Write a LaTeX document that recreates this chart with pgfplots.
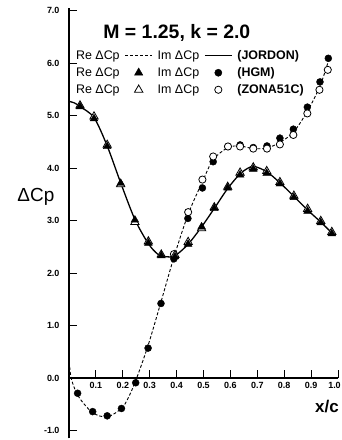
\documentclass[border=0pt]{standalone}
\usepackage{pgfplots}
\pgfplotsset{compat=1.18}
\usepackage{fontspec}
\setmainfont{Liberation Sans}
\begin{document}
\begin{tikzpicture}
\begin{axis}[
  scale only axis, width=269bp, height=430.5bp,
  xmin=0, xmax=1, ymin=-1.15, ymax=7.05,
  axis lines=middle,
  axis line style={-, line width=1.1bp, black},
  hide obscured x ticks=false, hide obscured y ticks=false,
  xtick={0.1,0.2,0.3,0.4,0.5,0.6,0.7,0.8,0.9},
  extra x ticks={1.0},
  extra x tick style={xticklabel style={xshift=-3.5bp}},
  ytick={-1,0,1,2,3,4,5,6,7},
  tick align=inside,
  major tick length=8bp,
  tick style={line width=0.9bp, black},
  /pgf/number format/assume math mode=true,
  xticklabel style={font=\fontsize{9}{10}\selectfont\bfseries, /pgf/number format/fixed, /pgf/number format/fixed zerofill, /pgf/number format/precision=1, yshift=-1bp},
  yticklabel style={font=\fontsize{9}{10}\selectfont\bfseries, /pgf/number format/fixed, /pgf/number format/fixed zerofill, /pgf/number format/precision=1, xshift=-6bp},
  clip=false,
  legend columns=3,
  legend plot pos=right,
  legend cell align=left,
  legend style={draw=none, fill=none, at={(axis cs:0.007,6.30)}, anchor=north west,
    font=\fontsize{12.5}{14}\selectfont, column sep=3bp, row sep=4.5bp,
    nodes={inner xsep=2bp, inner ysep=1bp}},
]
\coordinate (O) at (rel axis cs:0,0);
% legend
\addlegendimage{legend image code/.code={\draw[black,line width=1bp,dash pattern=on 3bp off 2bp] (0bp,0bp)--(27bp,0bp);}}
\addlegendentry{Re ΔCp}
\addlegendimage{legend image code/.code={\draw[black,line width=1.2bp] (0bp,0bp)--(27bp,0bp);}}
\addlegendentry{Im ΔCp}
\addlegendimage{legend image code/.code={}}
\addlegendentry{\bfseries (JORDON)}
\addlegendimage{legend image code/.code={\path[draw=none,fill=none] (0bp,0bp)--(27bp,0bp); \draw[only marks,mark=triangle*,mark size=4.8bp,black] plot coordinates {(13.5bp,0bp)};}}
\addlegendentry{Re ΔCp}
\addlegendimage{legend image code/.code={\path[draw=none,fill=none] (0bp,0bp)--(27bp,0bp); \draw[only marks,mark=*,mark size=3.6bp,black] plot coordinates {(13.5bp,0bp)};}}
\addlegendentry{Im ΔCp}
\addlegendimage{legend image code/.code={}}
\addlegendentry{\bfseries (HGM)}
\addlegendimage{legend image code/.code={\path[draw=none,fill=none] (0bp,0bp)--(27bp,0bp); \draw[only marks,mark=triangle,mark size=4.8bp,black,line width=0.8bp] plot coordinates {(13.5bp,0bp)};}}
\addlegendentry{Re ΔCp}
\addlegendimage{legend image code/.code={\path[draw=none,fill=none] (0bp,0bp)--(27bp,0bp); \draw[only marks,mark=o,mark size=3.6bp,black,line width=0.8bp] plot coordinates {(13.5bp,0bp)};}}
\addlegendentry{Im ΔCp}
\addlegendimage{legend image code/.code={}}
\addlegendentry{\bfseries (ZONA51C)}

% JORDON Re (solid)
\addplot[black, line width=1.3bp, smooth, tension=0.5, forget plot] coordinates {
(0,5.27) (0.02,5.24) (0.041,5.17) (0.093,4.96) (0.142,4.42) (0.192,3.72) (0.245,3.02)
(0.295,2.56) (0.33,2.36) (0.36,2.31) (0.394,2.33) (0.443,2.55) (0.493,2.88) (0.540,3.23)
(0.590,3.61) (0.636,3.89) (0.67,4.01) (0.69,4.03) (0.735,3.93) (0.784,3.72) (0.836,3.46)
(0.887,3.20) (0.936,2.97) (0.98,2.75)};
% JORDON Im (dashed)
\addplot[black, line width=0.9bp, dash pattern=on 3bp off 2bp, smooth, tension=0.5, forget plot] coordinates {
(0,0.4) (0.008,0.0) (0.035,-0.35) (0.088,-0.66) (0.142,-0.74) (0.195,-0.58) (0.22,-0.38)
(0.248,-0.05) (0.294,0.62) (0.342,1.45) (0.39,2.3) (0.443,3.12) (0.496,3.74) (0.536,4.16)
(0.591,4.39) (0.636,4.42) (0.685,4.37) (0.736,4.38) (0.784,4.49) (0.834,4.68) (0.886,5.08)
(0.933,5.56) (0.965,6.05)};
% HGM Im (filled circles)
\addplot[only marks, mark=*, mark size=3.5bp, black, forget plot] coordinates {
(0.032,-0.29) (0.088,-0.64) (0.142,-0.72) (0.195,-0.58) (0.248,-0.09) (0.294,0.57)
(0.342,1.42) (0.390,2.27) (0.442,3.04) (0.496,3.62) (0.536,4.12) (0.591,4.41) (0.636,4.44)
(0.685,4.39) (0.736,4.42) (0.784,4.57) (0.834,4.74) (0.886,5.16) (0.933,5.64) (0.964,6.09)};
% ZONA51C Im (open circles)
\addplot[only marks, mark=*, mark size=3.6bp, draw=black, fill=white, line width=0.8bp, forget plot] coordinates {
(0.390,2.36) (0.443,3.16) (0.496,3.78) (0.536,4.22) (0.591,4.41) (0.636,4.41) (0.685,4.37)
(0.736,4.37) (0.784,4.45) (0.834,4.63) (0.886,5.04) (0.931,5.49) (0.962,5.87)};
% ZONA51C Re (open triangles)
\addplot[only marks, mark=triangle*, mark size=4.8bp, draw=black, fill=white, line width=0.8bp, forget plot] coordinates {
(0.041,5.19) (0.093,4.98) (0.142,4.44) (0.192,3.69) (0.245,2.97) (0.295,2.60) (0.343,2.35)
(0.394,2.34) (0.443,2.59) (0.493,2.85) (0.540,3.25) (0.590,3.64) (0.636,3.91) (0.685,4.01)
(0.735,3.94) (0.784,3.73) (0.836,3.47) (0.887,3.22) (0.936,2.99) (0.977,2.78)};
% HGM Re (filled triangles)
\addplot[only marks, mark=triangle*, mark size=4.5bp, black, forget plot] coordinates {
(0.041,5.17) (0.093,4.94) (0.142,4.41) (0.192,3.71) (0.245,3.01) (0.295,2.57) (0.343,2.33)
(0.394,2.31) (0.443,2.55) (0.493,2.88) (0.540,3.23) (0.590,3.62) (0.636,3.87) (0.685,3.98)
(0.735,3.90) (0.784,3.70) (0.836,3.44) (0.887,3.18) (0.936,2.96) (0.977,2.75)};

\node[font=\fontsize{19.5}{22}\selectfont\bfseries] at (axis cs:0.401,6.57) {M = 1.25, k = 2.0};
\node[font=\fontsize{19}{22}\selectfont] at (axis cs:-0.123,3.45) {ΔCp};
\node[font=\fontsize{17}{20}\selectfont\bfseries] at (axis cs:0.959,-0.55) {x/c};
\end{axis}
\pgfresetboundingbox
\path[use as bounding box] ([xshift=-69bp,yshift=-1.6bp]O) rectangle ([xshift=273bp,yshift=438.4bp]O);
\end{tikzpicture}
\end{document}
